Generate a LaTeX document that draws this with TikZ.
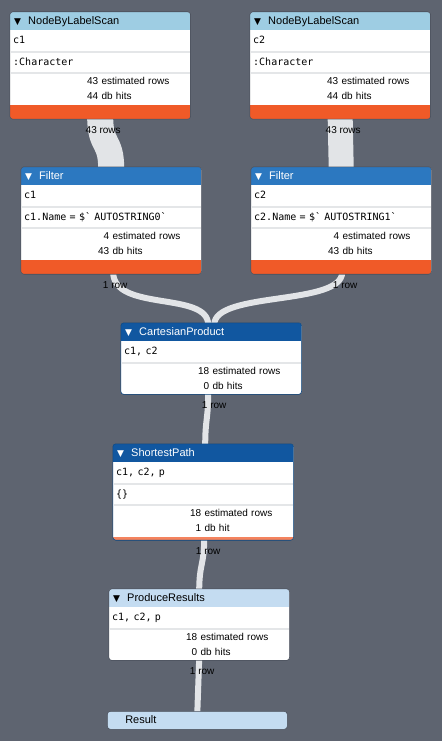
\documentclass[tikz,border=0pt]{standalone}
\usepackage{fontspec}
\setmainfont{Liberation Sans}
\setmonofont{DejaVu Sans Mono}
\newfontfamily\trifont{DejaVu Sans}
\usetikzlibrary{positioning,fit}
\pgfdeclarelayer{background}
\pgfdeclarelayer{boxes}
\pgfsetlayers{background,boxes,main}

\definecolor{canvas}{HTML}{5E6470}
\definecolor{flowgrey}{HTML}{E2E4E7}
\definecolor{scanblue}{HTML}{9ECDE3}
\definecolor{filterblue}{HTML}{2C78C0}
\definecolor{opblue}{HTML}{1157A0}
\definecolor{resblue}{HTML}{C4DCF1}
\definecolor{hitorange}{HTML}{F05A28}
\definecolor{sepgrey}{HTML}{E4E6E8}
\definecolor{greyedge}{HTML}{4A505C}
\definecolor{blueedge}{HTML}{0C4680}

\newcommand\tri{\makebox[14pt][l]{\trifont\fontsize{9}{9}\selectfont ▼}}
\newcommand\est[2]{\makebox[85pt][r]{#1}\ #2}

\tikzset{
  hdr/.style={anchor=north west, text width=172pt, inner xsep=4pt, inner ysep=0pt,
    minimum height=18pt, align=left, text height=8pt, text depth=2pt,
    font=\fontsize{11}{13}\selectfont},
  row/.style={text width=174pt, inner xsep=3pt, inner ysep=0pt, minimum height=21pt,
    align=left, text height=7.5pt, text depth=2pt, font=\ttfamily\fontsize{10}{11}\selectfont},
  stats/.style={text width=174pt, inner xsep=3pt, inner ysep=0pt, minimum height=31pt,
    align=left, font=\fontsize{10}{15}\selectfont},
  bar/.style={minimum width=180pt, minimum height=14pt, inner sep=0pt},
  box/.style={inner sep=0pt},
  rowlbl/.style={font=\fontsize{10}{12}\selectfont, text height=7pt, text depth=0pt, inner sep=1pt},
  flow/.style={draw=flowgrey, line width=6pt, shorten <=-2pt, shorten >=-2pt},
  sep/.style={draw=sepgrey, line width=1.5pt}
}

\begin{document}
\begin{tikzpicture}[x=1pt,y=-1pt]
  \begin{pgfonlayer}{background}
    \fill[canvas] (0,0) rectangle (442,741);
  \end{pgfonlayer}
  % label scans and filters, side by side
  \foreach \s/\x/\fx/\var/\idx in {A/10/21/c1/0, B/250/251/c2/1} {
    \node[hdr] (scan\s-h) at (\x,12) {\tri NodeByLabelScan};
    \node[row, below=0pt of scan\s-h] (scan\s-1) {\var};
    \node[row, below=0pt of scan\s-1] (scan\s-2) {:Character};
    \node[stats, below=0pt of scan\s-2] (scan\s-s) {\est{43}{estimated rows}\\\est{44}{db hits}};
    \node[bar, below=0pt of scan\s-s] (scan\s-b) {};
    \node[box, fit=(scan\s-h)(scan\s-b)] (scan\s) {};
    \node[rowlbl, below=6pt of scan\s, xshift=3pt] (scan\s-l) {43 rows};
    \node[hdr, text=white] (filt\s-h) at (\fx,167) {\tri Filter};
    \node[row, below=0pt of filt\s-h] (filt\s-1) {\var};
    \node[row, below=0pt of filt\s-1] (filt\s-2) {\var.Name = \$\textasciigrave\ AUTOSTRING\idx\textasciigrave};
    \node[stats, below=0pt of filt\s-2] (filt\s-s) {\est{4}{estimated rows}\\\est{43}{db hits}};
    \node[bar, below=0pt of filt\s-s] (filt\s-b) {};
    \node[box, fit=(filt\s-h)(filt\s-b)] (filt\s) {};
    \node[rowlbl, below=6pt of filt\s, xshift=4pt] (filt\s-l) {1 row};
  }
  % cartesian product
  \node[hdr, text=white] (cart-h) at (121,323) {\tri CartesianProduct};
  \node[row, below=0pt of cart-h] (cart-1) {c1, c2};
  \node[stats, below=0pt of cart-1] (cart-s) {\est{18}{estimated rows}\\\est{0}{db hits}};
  \node[box, fit=(cart-h)(cart-s)] (cart) {};
  \node[rowlbl, below=6pt of cart, xshift=3pt] (cart-l) {1 row};
  % shortest path
  \node[hdr, text=white] (short-h) at (113,444) {\tri ShortestPath};
  \node[row, below=0pt of short-h] (short-1) {c1, c2, p};
  \node[row, below=0pt of short-1] (short-2) {\{\}};
  \node[stats, below=0pt of short-2] (short-s) {\est{18}{estimated rows}\\\est{1}{db hit}};
  \node[bar, minimum height=3pt, below=0pt of short-s] (short-b) {};
  \node[box, fit=(short-h)(short-b)] (short) {};
  \node[rowlbl, below=6pt of short, xshift=5pt] (short-l) {1 row};
  % produce results
  \node[hdr] (prod-h) at (109,589) {\tri ProduceResults};
  \node[row, below=0pt of prod-h] (prod-1) {c1, c2, p};
  \node[stats, below=0pt of prod-1] (prod-s) {\est{18}{estimated rows}\\\est{0}{db hits}};
  \node[box, fit=(prod-h)(prod-s)] (prod) {};
  \node[rowlbl, below=6pt of prod, xshift=3pt] (prod-l) {1 row};
  \node[hdr, fill=resblue, draw=greyedge, line width=0.6pt, rounded corners=3pt] (result) at (107,711) {\hspace*{14pt}Result};

  \begin{pgfonlayer}{boxes}
    \foreach \b/\hc in {scanA/scanblue, scanB/scanblue, filtA/filterblue, filtB/filterblue,
                        cart/opblue, short/opblue, prod/resblue} {
      \begin{scope}
        \clip[rounded corners=3pt] (\b.north west) rectangle (\b.south east);
        \fill[white] (\b.north west) rectangle (\b.south east);
        \fill[\hc] (\b-h.north west) rectangle (\b-h.south east);
      \end{scope}
    }
    \foreach \b/\bc in {scanA/hitorange, scanB/hitorange, filtA/hitorange, filtB/hitorange,
                        short/hitorange!75!white} {
      \begin{scope}
        \clip[rounded corners=3pt] (\b.north west) rectangle (\b.south east);
        \fill[\bc] (\b-b.north west) rectangle (\b-b.south east);
      \end{scope}
    }
    \foreach \r in {scanA-2, scanA-s, scanB-2, scanB-s, filtA-2, filtA-s, filtB-2, filtB-s,
                    cart-s, short-2, short-s, prod-s}
      \draw[sep] ([xshift=0.5pt]\r.north west) -- ([xshift=-0.5pt]\r.north east);
    \foreach \b/\ec in {scanA/greyedge, scanB/greyedge, filtA/greyedge, filtB/greyedge,
                        cart/blueedge, short/blueedge, prod/greyedge}
      \draw[\ec, line width=0.6pt, rounded corners=3pt] (\b.north west) rectangle (\b.south east);
  \end{pgfonlayer}

  \begin{pgfonlayer}{background}
    \draw[flow, line width=26pt] (scanA.south) .. controls +(0,28) and +(0,-28) .. (filtA.north);
    \draw[flow, line width=25pt] (scanB.south) -- (filtB.north);
    \draw[flow] ([xshift=2pt]filtA.south) .. controls +(0,38) and +(0,-32) .. ([xshift=-3pt]cart.north);
    \draw[flow] ([xshift=1pt]filtB.south) .. controls +(0,32) and +(0,-32) .. ([xshift=3pt]cart.north);
    \draw[flow] ([xshift=-3pt]cart.south) .. controls +(0,25) and +(0,-25) .. ([xshift=2pt]short.north);
    \draw[flow] ([xshift=1pt]short.south) .. controls +(0,25) and +(0,-25) .. (prod.north);
    \draw[flow] (prod.south) .. controls +(0,25) and +(0,-25) .. (result.north);
  \end{pgfonlayer}
\end{tikzpicture}
\end{document}
